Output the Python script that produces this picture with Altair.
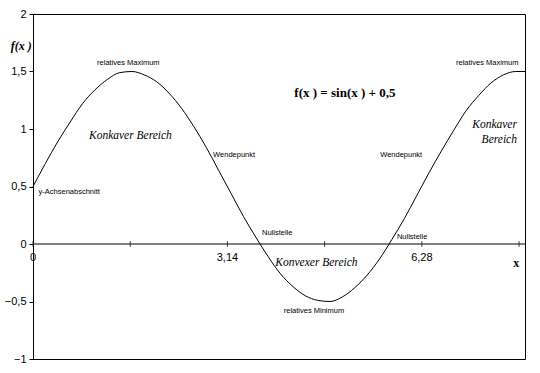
import altair as alt
import pandas as pd

# curve values
curve_x = [0.0, 0.2, 0.4, 0.6, 0.8, 1.0, 1.2, 1.4, 1.6, 1.8, 2.0, 2.2, 2.4, 2.6, 2.8,
           3.0, 3.2, 3.4, 3.6, 3.8, 4.0, 4.2, 4.4, 4.6, 4.8, 5.0, 5.2, 5.4, 5.6, 5.8,
           6.0, 6.2, 6.4, 6.6, 6.8, 7.0, 7.2, 7.4, 7.6, 7.8, 7.95]
curve_y = [0.50, 0.70, 0.89, 1.06, 1.22, 1.34, 1.43, 1.49, 1.50, 1.47, 1.41, 1.31, 1.18, 1.02, 0.84,
           0.64, 0.44, 0.24, 0.06, -0.11, -0.26, -0.37, -0.45, -0.49, -0.50, -0.46, -0.38, -0.27, -0.13, 0.04,
           0.22, 0.42, 0.62, 0.81, 0.99, 1.16, 1.29, 1.40, 1.47, 1.50, 1.50]

# x axis ticks and labels
tick_x = [0.0, 1.571, 3.142, 4.712, 6.283, 7.854]
tick_label_x = [0.0, 3.142, 6.283]
tick_label_text = ["0", "3,14", "6,28"]

# y axis tick values
y_ticks = [-1, -0.5, 0, 0.5, 1, 1.5, 2]

# small annotation labels
small_center_text = ["relatives Maximum", "relatives Maximum", "relatives Minimum"]
small_center_x = [1.54, 7.34, 4.54]
small_center_y = [1.577, 1.577, -0.584]

small_left_text = ["y-Achsenabschnitt", "Wendepunkt", "Nullstelle", "Wendepunkt", "Nullstelle"]
small_left_x = [0.09, 2.91, 3.70, 5.61, 5.88]
small_left_y = [0.453, 0.775, 0.096, 0.775, 0.061]

region_center_text = ["Konkaver Bereich", "Konvexer Bereich"]
region_center_x = [1.574, 4.58]
region_center_y = [0.941, -0.166]

region_right_text = ["Konkaver", "Bereich"]
region_right_x = [7.82, 7.82]
region_right_y = [1.037, 0.906]

formula_text = ["f(x ) = sin(x ) + 0,5"]
formula_x = [5.04]
formula_y = [1.315]

XDOM = [0, 7.95]
YDOM = [-1, 2]

xs = alt.Scale(domain=XDOM, nice=False, zero=False)
ys = alt.Scale(domain=YDOM, nice=False, zero=False)
yaxis = alt.Axis(values=y_ticks, grid=False, format=".1~f",
                 domainColor="black", tickColor="black", tickSize=4,
                 labelFont="Liberation Sans", labelFontSize=11, labelColor="black",
                 labelPadding=3, labelExpr="replace(datum.label, '.', ',')")

X = alt.X("x:Q", scale=xs, axis=None)
Y = alt.Y("y:Q", scale=ys, axis=yaxis, title=None)


def text_layer(xv, yv, tv, **kw):
    df = pd.DataFrame({"x": xv, "y": yv, "t": tv})
    return alt.Chart(df).mark_text(color="black", baseline="middle", **kw).encode(x=X, y=Y, text="t:N")


curve = alt.Chart(pd.DataFrame({"x": curve_x, "y": curve_y})).mark_line(
    color="black", strokeWidth=1, interpolate="monotone"
).encode(x=X, y=Y)

zero_rule = alt.Chart(pd.DataFrame({"x": [0.0], "x2": [XDOM[1]], "y": [0.0]})).mark_rule(
    color="black", strokeWidth=1
).encode(x=X, x2="x2:Q", y=Y)

ticks = alt.Chart(pd.DataFrame({"x": tick_x, "y": [0.0] * len(tick_x)})).mark_tick(
    color="black", thickness=1, size=6, orient="vertical"
).encode(x=X, y=Y)

tick_labels = text_layer(tick_label_x, [0.0] * 3, tick_label_text,
                         font="Liberation Sans", fontSize=11, dy=14, align="center")
x_title = text_layer([7.81], [-0.166], ["x"], font="Liberation Serif", fontSize=12,
                     fontWeight="bold", align="center")
y_title = text_layer([-0.19], [1.725], ["f(x )"], font="Liberation Serif", fontSize=12,
                     fontWeight="bold", fontStyle="italic", align="center")
small_c = text_layer(small_center_x, small_center_y, small_center_text,
                     font="Liberation Sans", fontSize=7.5, align="center")
small_l = text_layer(small_left_x, small_left_y, small_left_text,
                     font="Liberation Sans", fontSize=7.5, align="left")
region_c = text_layer(region_center_x, region_center_y, region_center_text,
                      font="Liberation Serif", fontSize=11.5, fontStyle="italic", align="center")
region_r = text_layer(region_right_x, region_right_y, region_right_text,
                      font="Liberation Serif", fontSize=11.5, fontStyle="italic", align="right")
formula = text_layer(formula_x, formula_y, formula_text, font="Liberation Serif", fontSize=13,
                     fontWeight="bold", align="center")

chart = alt.layer(
    curve, zero_rule, ticks, tick_labels, x_title, y_title, small_c, small_l, region_c, region_r, formula
).properties(
    width=492, height=345,
    autosize=alt.AutoSizeParams(type="none"),
    padding={"left": 33, "top": 14, "right": 15, "bottom": 14},
    background="white",
).configure_view(stroke="black", strokeWidth=1)

chart.save("out.html", embed_options={"renderer": "svg", "actions": False})
